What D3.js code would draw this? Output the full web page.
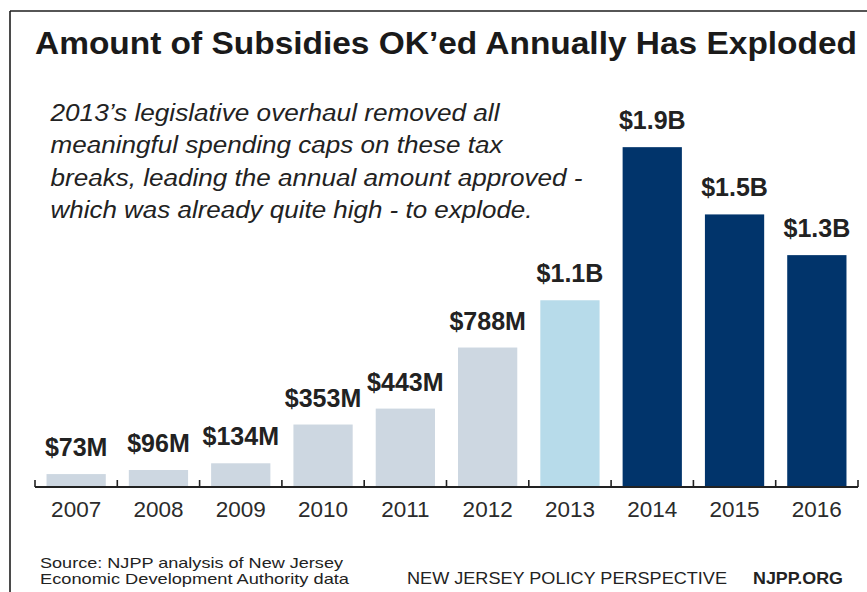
<!DOCTYPE html>
<html>
<head>
<meta charset="utf-8">
<script src="https://cdn.jsdelivr.net/npm/d3@7"></script>
<style>
  html, body { margin: 0; padding: 0; background: #fff; }
  svg { display: block; }
  text { font-family: "Liberation Sans", Arial, Helvetica, sans-serif; }
</style>
</head>
<body>
<script>
// Annual subsidy approvals, in millions of dollars
const years = ["2007", "2008", "2009", "2010", "2011", "2012", "2013", "2014", "2015", "2016"];
const amounts = [73, 96, 134, 353, 443, 788, 1055, 1920, 1540, 1310];
// Period each year belongs to (before / year of / after the 2013 overhaul)
const periods = ["before", "before", "before", "before", "before", "before", "overhaul", "after", "after", "after"];

const titleText = "Amount of Subsidies OK\u2019ed Annually Has Exploded";
const noteLines = [
  "2013\u2019s legislative overhaul removed all",
  "meaningful spending caps on these tax",
  "breaks, leading the annual amount approved -",
  "which was already quite high - to explode."
];
const sourceLines = [
  "Source: NJPP analysis of New Jersey",
  "Economic Development Authority data"
];
const orgName = "NEW JERSEY POLICY PERSPECTIVE";
const orgSite = "NJPP.ORG";

const W = 867, H = 592;
const baseY = 487;

const svg = d3.select("body").append("svg").attr("width", W).attr("height", H);

// Frame: top and left rules
svg.append("line").attr("x1", 10).attr("x2", W).attr("y1", 11).attr("y2", 11)
  .attr("stroke", "#1e1e1e").attr("stroke-width", 1.6);
svg.append("line").attr("x1", 10).attr("x2", 10).attr("y1", 11).attr("y2", H)
  .attr("stroke", "#1e1e1e").attr("stroke-width", 1.6);

function fit(sel, w) {
  sel.attr("textLength", w).attr("lengthAdjust", "spacingAndGlyphs");
  return sel;
}

// Title
fit(svg.append("text").attr("x", 35).attr("y", 53.5)
  .attr("font-size", 30.5).attr("font-weight", "bold").attr("fill", "#1a1a1a")
  .text(titleText), 822);

// Annotation
const noteWidths = [449, 452, 532, 482];
noteLines.forEach((t, i) => {
  fit(svg.append("text").attr("x", 50.5).attr("y", 121 + i * 32.4)
    .attr("font-size", 24.5).attr("font-style", "italic").attr("fill", "#222")
    .text(t), noteWidths[i]);
});

// Scales
const x = d3.scaleBand().domain(years).range([35, 858]).paddingInner(0.28).paddingOuter(0.14);
const y = d3.scaleLinear().domain([0, 2000]).range([baseY, baseY - 354]);
const color = d3.scaleOrdinal().domain(["before", "overhaul", "after"])
  .range(["#cdd7e1", "#b7dbea", "#01346b"]);

const data = years.map((yr, i) => ({ year: yr, value: amounts[i], period: periods[i] }));

const fmt = v => v < 1000 ? `$${v}M` : `$${(v / 1000).toFixed(1)}B`;

// Bars
svg.append("g").selectAll("rect").data(data).join("rect")
  .attr("x", d => x(d.year))
  .attr("width", x.bandwidth())
  .attr("y", d => y(d.value))
  .attr("height", d => y(0) - y(d.value))
  .attr("fill", d => color(d.period));

// Value labels
svg.append("g").selectAll("text").data(data).join("text")
  .attr("x", d => x(d.year) + x.bandwidth() / 2)
  .attr("y", d => y(d.value) - 18)
  .attr("text-anchor", "middle")
  .attr("font-size", 25).attr("font-weight", "bold").attr("fill", "#222")
  .text(d => fmt(d.value));

// Category axis: baseline, ticks at band boundaries, year labels
const axis = d3.axisBottom(x).tickSize(0).tickPadding(0);
const gAxis = svg.append("g").attr("transform", `translate(0,${baseY})`).call(axis);
gAxis.select(".domain").attr("stroke", "#222").attr("stroke-width", 2).attr("d", "M35,0H858");
gAxis.selectAll(".tick text")
  .attr("y", 30).attr("dy", 0)
  .attr("font-size", 22.5).attr("fill", "#2b2b2b")
  .attr("font-family", "'Liberation Sans', Arial, Helvetica, sans-serif");

const step = x.step();
const edges = d3.range(years.length + 1).map(i => x(years[0]) - (step - x.bandwidth()) / 2 + i * step);
gAxis.selectAll(".edge").data(edges).join("line").attr("class", "edge")
  .attr("x1", d => d).attr("x2", d => d).attr("y1", 0).attr("y2", -7)
  .attr("stroke", "#222").attr("stroke-width", 1.6);

// Footer
const srcWidths = [303, 309];
sourceLines.forEach((t, i) => {
  fit(svg.append("text").attr("x", 40).attr("y", 567.8 + i * 16)
    .attr("font-size", 15).attr("fill", "#222").text(t), srcWidths[i]);
});
fit(svg.append("text").attr("x", 407).attr("y", 584)
  .attr("font-size", 17.3).attr("fill", "#222").text(orgName), 320);
fit(svg.append("text").attr("x", 753).attr("y", 584)
  .attr("font-size", 17.3).attr("font-weight", "bold").attr("fill", "#222").text(orgSite), 90);
</script>
</body>
</html>
